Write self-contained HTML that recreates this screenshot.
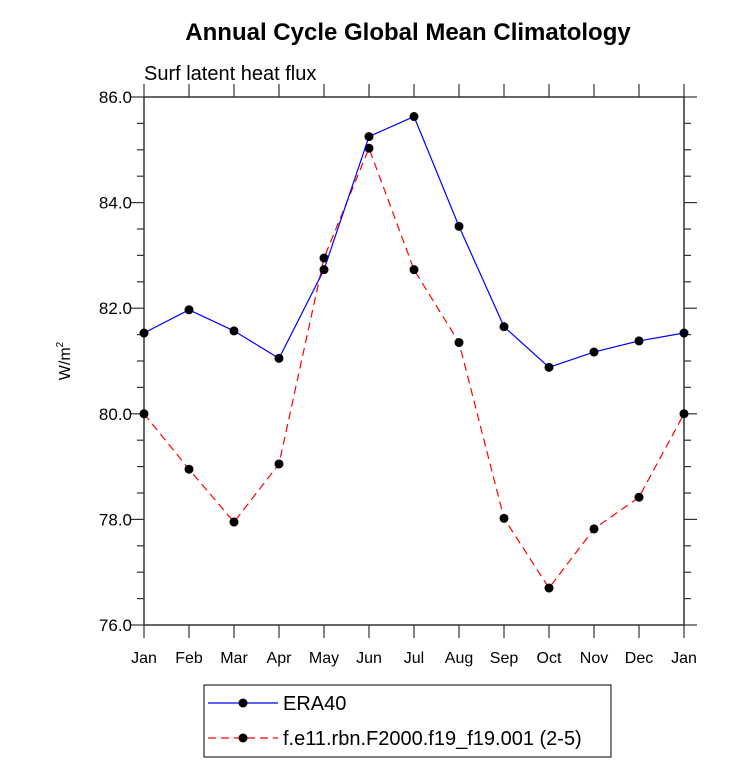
<!DOCTYPE html>
<html><head><meta charset="utf-8"><style>
body{margin:0;background:#fff}
text{font-family:"Liberation Sans",sans-serif}
</style></head><body>
<svg id="c" width="733" height="777" xmlns="http://www.w3.org/2000/svg">
<text x="408" y="40" font-size="24" font-weight="bold" text-anchor="middle">Annual Cycle Global Mean Climatology</text>
<text x="144" y="80" font-size="20">Surf latent heat flux</text>
<text transform="translate(70,361) rotate(-90)" font-size="16" text-anchor="middle">W/m<tspan font-size="10" dy="-7">2</tspan></text>
<g id="axes"></g><g id="series"></g>
<rect x="204" y="685" width="407" height="72" fill="none" stroke="#000" stroke-width="1"/>
<g>
<line x1="208" y1="703" x2="278" y2="703" stroke="#00f" stroke-width="1.2"/><circle cx="243" cy="703" r="4.5"/>
<text x="283" y="710" font-size="20">ERA40</text></g>
<g>
<line x1="208" y1="738" x2="278" y2="738" stroke="#f00" stroke-width="1.2" stroke-dasharray="8,5"/><circle cx="243" cy="738" r="4.5"/>
<text x="283" y="745" font-size="20">f.e11.rbn.F2000.f19_f19.001 (2-5)</text></g>
</svg>
<script>
const months=["Jan","Feb","Mar","Apr","May","Jun","Jul","Aug","Sep","Oct","Nov","Dec","Jan"];
const era40=[81.53,81.97,81.57,81.05,82.73,85.25,85.63,83.55,81.65,80.88,81.17,81.38,81.53];
const model=[80.0,78.95,77.95,79.05,82.95,85.03,82.73,81.35,78.02,76.7,77.82,78.42,80.0];
const yTicks=["76.0","78.0","80.0","82.0","84.0","86.0"];
const L=144,R=684,T=97,B=625,ymin=76,ymax=86;
const ns="http://www.w3.org/2000/svg";
const xs=i=>L+(R-L)*i/(months.length-1);
const ys=v=>B-(v-ymin)/(ymax-ymin)*(B-T);
const ax=document.getElementById('axes'),se=document.getElementById('series');
function mk(tag,at,p){const e=document.createElementNS(ns,tag);for(const k in at)e.setAttribute(k,at[k]);p.appendChild(e);return e;}
const fr=mk('rect',{x:L,y:T,width:R-L,height:B-T,fill:'none',stroke:'#333','stroke-width':1.5},ax);


for(let v=ymin;v<=ymax+1e-9;v+=0.5){const maj=Math.abs(v/2-Math.round(v/2))<1e-9;const len=maj?13:7;const y=ys(v);
mk('line',{x1:L,x2:L-len,y1:y,y2:y,stroke:'#333','stroke-width':1.2},ax);mk('line',{x1:R,x2:R+len,y1:y,y2:y,stroke:'#333','stroke-width':1.2},ax);}
yTicks.forEach(t=>{const e=mk('text',{x:L-12,y:ys(parseFloat(t))+6,'font-size':17,'text-anchor':'end'},ax);e.textContent=t;

});
months.forEach((m,i)=>{const x=xs(i);
mk('line',{x1:x,x2:x,y1:B,y2:B+13,stroke:'#333','stroke-width':1.2},ax);mk('line',{x1:x,x2:x,y1:T,y2:T-13,stroke:'#333','stroke-width':1.2},ax);
const e=mk('text',{x:x,y:B+38,'font-size':16,'text-anchor':'middle'},ax);e.textContent=m;

});
function line(d,col,dash,name){const g=mk('g',{},se);


const at={points:d.map((v,i)=>xs(i)+','+ys(v)).join(' '),fill:'none',stroke:col,'stroke-width':1.2};if(dash)at['stroke-dasharray']=dash;mk('polyline',at,g);
d.forEach((v,i)=>{const c=mk('circle',{cx:xs(i),cy:ys(v),r:4.5},g);

});}
line(model,'#f00','8,5','series-model');
line(era40,'#00f',null,'series-era40');
</script>
</body></html>
